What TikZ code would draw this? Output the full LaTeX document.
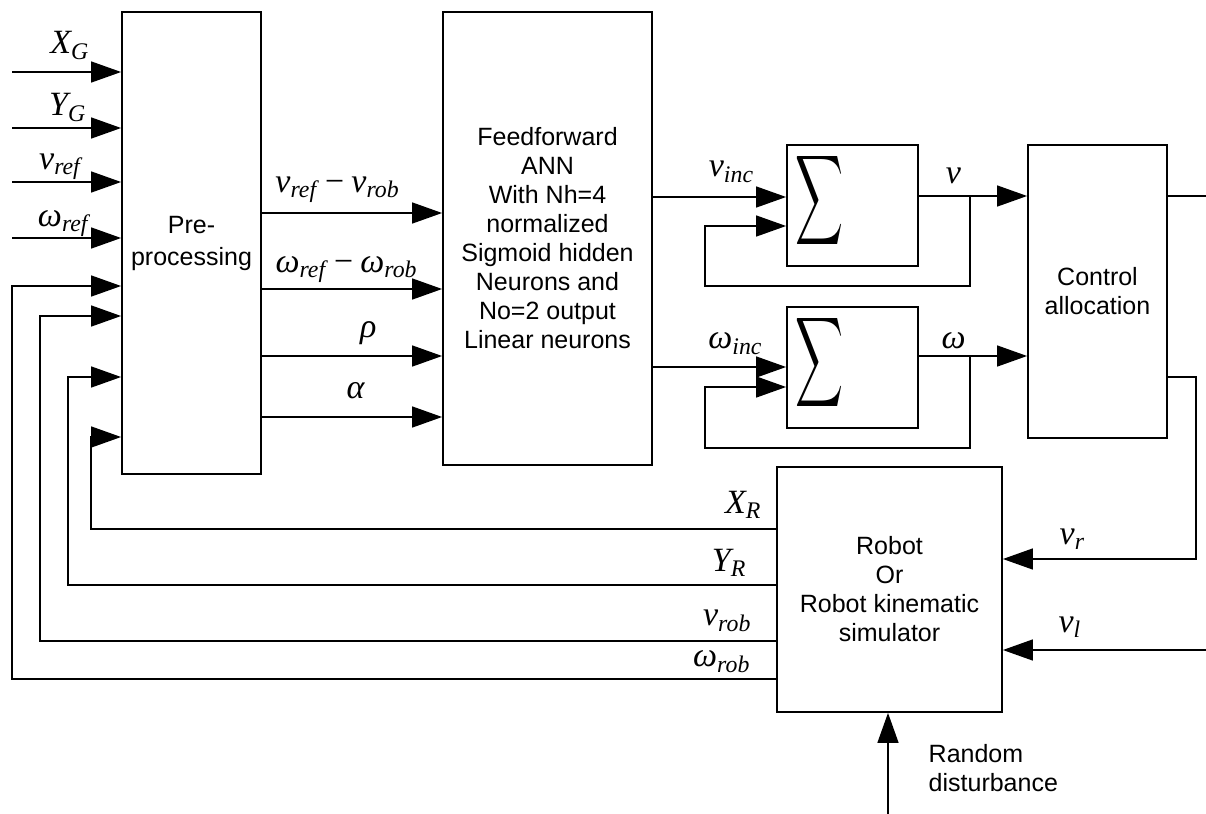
\documentclass[tikz,border=0pt]{standalone}
\usepackage{fontspec}
\usepackage{amsmath}
\usepackage{graphicx}
\setmainfont{Liberation Sans}
\newfontfamily\tms{Liberation Serif}
\usetikzlibrary{arrows.meta, positioning, calc}

\begin{document}
\begin{tikzpicture}[
        x=0.5pt, y=-0.5pt,
        line width=0.7pt,
        block/.style={draw, line width=0.9pt, inner sep=0pt, align=center, font=\fontsize{12.5}{14.5}\selectfont},
        sumbox/.style={block, minimum width=65.5pt, minimum height=60.5pt},
        arrow/.style={-{Triangle[length=15pt, width=10.5pt]}},
        lab/.style={font=\fontsize{17}{20}\selectfont\tms\itshape, inner sep=0pt},
        sig/.style={inner sep=0pt}
    ]
        \useasboundingbox (0,0) rectangle (1206,814);

        % blocks
        \node[block, minimum width=69.5pt, minimum height=231pt] (pre) at (191.5,243) {Pre-\\[1.5pt]processing};
        \node[block, minimum width=104.5pt, minimum height=226.5pt] (ann) at (547.5,238.5) {Feedforward\\ANN\\With Nh=4\\normalized\\Sigmoid hidden\\Neurons and\\No=2 output\\Linear neurons};
        \node[sumbox] (sum1) at (852.5,205.5) {};
        \node[sumbox] (sum2) at (852.5,367.5) {};
        \node[sig] (sig1) at (819,200) {\resizebox{24pt}{33pt}{$\displaystyle\sum$}};
        \node[sig] (sig2) at (819,362) {\resizebox{24pt}{33pt}{$\displaystyle\sum$}};
        \node[block, minimum width=69.5pt, minimum height=146.5pt] (ctrl) at (1097.5,291.5) {Control\\allocation};
        \node[block, minimum width=112.5pt, minimum height=122.5pt] (robot) at (889.5,589.5) {Robot\\Or\\Robot kinematic\\simulator};

        % references
        \coordinate (xg) at (12,72);
        \coordinate (yg) at (12,128);
        \coordinate (vref) at (12,182);
        \coordinate (wref) at (12,238);
        \draw[arrow] (xg) -- node[lab, above=6pt, pos=0.53] {X\textsubscript{G}} (xg -| pre.west);
        \draw[arrow] (yg) -- node[lab, above=3pt, pos=0.51] {Y\textsubscript{G}} (yg -| pre.west);
        \draw[arrow] (vref) -- node[lab, above=1pt, pos=0.44] {v\textsubscript{ref}} (vref -| pre.west);
        \draw[arrow] (wref) -- node[lab, above=0.5pt, pos=0.47] {ω\textsubscript{ref}} (wref -| pre.west);

        % pre-processing to ANN
        \draw[arrow] (pre.east |- 0,213) -- node[lab, above=5pt, pos=0.42] {v\textsubscript{ref}\,−\,v\textsubscript{rob}} (ann.west |- 0,213);
        \draw[arrow] (pre.east |- 0,289) -- node[lab, above=3pt, pos=0.47] {ω\textsubscript{ref}\,−\,ω\textsubscript{rob}} (ann.west |- 0,289);
        \draw[arrow] (pre.east |- 0,356) -- node[lab, above=5.5pt, pos=0.59] {ρ} (ann.west |- 0,356);
        \draw[arrow] (pre.east |- 0,417) -- node[lab, above=8.5pt, pos=0.52] {α} (ann.west |- 0,417);

        % ANN to integrators
        \draw[arrow] (ann.east |- 0,197) -- node[lab, above=7pt, pos=0.59] {v\textsubscript{inc}} (sum1.west |- 0,197);
        \draw[arrow] (ann.east |- 0,367) -- node[lab, above=6pt, pos=0.62] {ω\textsubscript{inc}} (sum2.west |- 0,367);
        \draw[arrow] (sum1.east |- 0,196) -- node[lab, above=5.5pt, pos=0.32] {v} (ctrl.west |- 0,196);
        \draw[arrow] (sum2.east |- 0,356) -- node[lab, above=3pt, pos=0.32] {ω} (ctrl.west |- 0,356);
        \coordinate (j1) at (970,196);
        \coordinate (j2) at (970,356);
        \draw[arrow] (j1) -- (970,286) -- (705,286) |- (sum1.west |- 0,226);
        \draw[arrow] (j2) -- (970,448) -- (705,448) |- (sum2.west |- 0,387);

        % control allocation to robot
        \coordinate (outr) at (1206,196);
        \coordinate (vlin) at (1206,650);
        \draw (ctrl.east |- 0,196) -- (outr);
        \draw[arrow] (ctrl.east |- 0,377) -- (1196,377) |- node[lab, above=4.5pt, pos=0.82] {v\textsubscript{r}} (robot.east |- 0,559);
        \draw[arrow] (vlin) -- node[lab, above=6pt, pos=0.67] {v\textsubscript{l}} (robot.east |- vlin);

        % feedback from robot
        \draw[arrow] (robot.west |- 0,529) node[lab, anchor=south east, xshift=-7pt, yshift=5pt] {X\textsubscript{R}} -- (91,529) -- (91,437) -- (pre.west |- 0,437);
        \draw[arrow] (robot.west |- 0,585) node[lab, anchor=south east, xshift=-14.5pt, yshift=4pt] {Y\textsubscript{R}} -- (68,585) |- (pre.west |- 0,377);
        \draw[arrow] (robot.west |- 0,641) node[lab, anchor=south east, xshift=-12pt, yshift=4.5pt] {v\textsubscript{rob}} -- (40,641) |- (pre.west |- 0,316);
        \draw[arrow] (robot.west |- 0,679) node[lab, anchor=south east, xshift=-12.5pt, yshift=3pt] {ω\textsubscript{rob}} -- (12,679) |- (pre.west |- 0,286);

        % disturbance
        \coordinate (dist) at (888,814);
        \draw[arrow] (dist) -- (dist |- robot.south);
        \node[anchor=north west, align=left, inner sep=0pt, font=\fontsize{12.5}{14.5}\selectfont] (distlab) at (928,744) {Random\\disturbance};
    \end{tikzpicture}
\end{document}
